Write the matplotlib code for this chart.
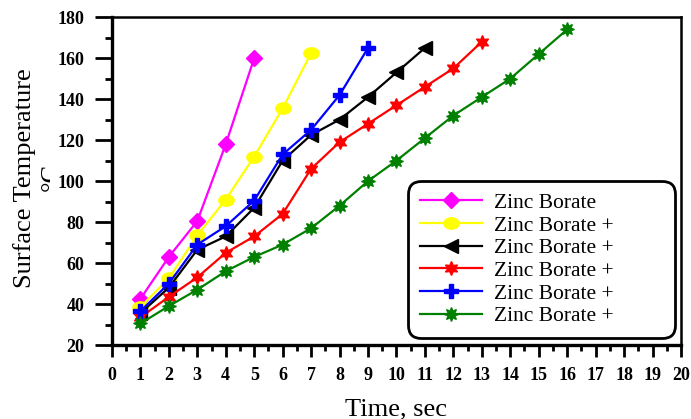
import numpy as np
import matplotlib
matplotlib.use("Agg")
import matplotlib.pyplot as plt
from matplotlib.path import Path
from matplotlib.transforms import Affine2D, Bbox, TransformedBbox

plt.rcParams['font.family'] = ['Liberation Serif', 'DejaVu Serif']

# data
time_zb = [1, 2, 3, 4, 5]
temp_zb = [42.5, 63, 80.5, 118, 160]

time_y = [1, 2, 3, 4, 5, 6, 7]
temp_y = [38.5, 52.5, 73.5, 91, 112, 135.5, 162.5]

time_k = [1, 2, 3, 4, 5, 6, 7, 8, 9, 10, 11]
temp_k = [35.5, 48, 66.5, 73, 87, 110, 122.5, 130, 141, 153, 165]

time_r = [1, 2, 3, 4, 5, 6, 7, 8, 9, 10, 11, 12, 13]
temp_r = [33.5, 43.5, 53, 65, 73, 84, 106, 119, 128, 137, 146, 155, 168]

time_b = [1, 2, 3, 4, 5, 6, 7, 8, 9]
temp_b = [36.5, 50, 69, 78, 90.5, 113, 125, 142, 165]

time_g = [1, 2, 3, 4, 5, 6, 7, 8, 9, 10, 11, 12, 13, 14, 15, 16]
temp_g = [30.5, 39, 47, 56, 63, 69, 77, 88, 100, 110, 121, 132, 141, 150, 162, 174]

labels = ["Zinc Borate", "Zinc Borate +", "Zinc Borate +",
          "Zinc Borate +", "Zinc Borate +", "Zinc Borate +"]

# wide ellipse marker for the yellow series
ellipse = Path.unit_circle().transformed(Affine2D().scale(1.35, 1.0))

fig = plt.figure(figsize=(6.91, 4.19), dpi=100)
ax = fig.add_axes([0.162, 0.1766, 0.8235, 0.7824])

lw = 1.6
ax.plot(time_zb, temp_zb, color='#ff00ff', marker='D', ms=8, lw=lw, label=labels[0])
ax.plot(time_y, temp_y, color='#ffff00', marker=ellipse, ms=11, lw=lw, label=labels[1])
ax.plot(time_k, temp_k, color='black', marker='<', ms=10, lw=lw, label=labels[2])
ax.plot(time_r, temp_r, color='red', marker=(6, 1, 0), ms=10, lw=lw, label=labels[3])
ax.plot(time_b, temp_b, color='blue', marker='P', ms=10, lw=lw, label=labels[4])
ax.plot(time_g, temp_g, color='green', marker=(8, 1, 0), ms=10, lw=lw, label=labels[5])

ax.set_xlim(0, 20)
ax.set_ylim(20, 180)
ax.set_xticks(np.arange(0, 21, 1))
ax.set_xticks(np.arange(0.5, 20, 1), minor=True)
ax.set_yticks(np.arange(20, 181, 20))
ax.set_yticks(np.arange(30, 180, 20), minor=True)

for side in ['left', 'bottom']:
    ax.spines[side].set_linewidth(2.4)
for side in ['top', 'right']:
    ax.spines[side].set_linewidth(1.8)

ax.tick_params(axis='y', which='major', direction='out', length=12, width=2, pad=8)
ax.tick_params(axis='y', which='minor', direction='out', length=5, width=2)
ax.tick_params(axis='x', which='major', direction='out', length=8.5, width=2, pad=7)
ax.tick_params(axis='x', which='minor', direction='out', length=4, width=2)
for t in ax.get_xticklabels() + ax.get_yticklabels():
    t.set_fontweight('bold')
    t.set_fontsize(13)

ax.set_xlabel("Time, sec", fontsize=19, labelpad=11)
ax.set_ylabel("Surface Temperature", fontsize=19)
ax.yaxis.set_label_coords(-0.1336, 0.51)

# second line of the y label, mostly hidden in the original
deg = fig.text(41 / 691, 1 - 177 / 419, "°C", rotation=90, fontsize=19,
               ha='left', va='center')
deg.set_clip_box(TransformedBbox(Bbox([[0, 0], [50 / 691, 1]]), fig.transFigure))
deg.set_clip_on(True)

leg = ax.legend(loc='lower left',
                bbox_to_anchor=(408 / 691, 1 - 338 / 419, 267 / 691, 153 / 419),
                bbox_transform=fig.transFigure, mode='expand', borderaxespad=0,
                fontsize=15.5, handlelength=2.9, handletextpad=0.55,
                labelspacing=0.12, borderpad=0.55, fancybox=True,
                framealpha=1, edgecolor='black')
leg.get_frame().set_linewidth(2)
leg.get_frame().set_boxstyle('round', pad=0, rounding_size=0.6)

fig.savefig("out.png", dpi=100)
